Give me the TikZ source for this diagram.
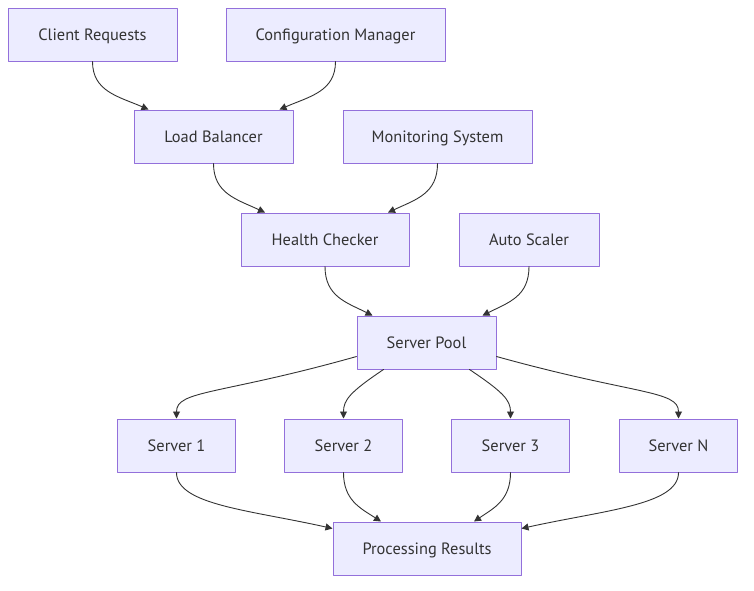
\documentclass[tikz,border=0pt]{standalone}
\usepackage{fontspec}
\setmainfont{PT Sans}
\usetikzlibrary{arrows.meta}
\definecolor{boxfill}{HTML}{ECECFF}
\definecolor{boxline}{HTML}{9370DB}
\definecolor{inkcol}{HTML}{333333}
\tikzset{
  box/.style={draw=boxline, fill=boxfill, text=inkcol, line width=1pt,
    minimum height=53pt, inner sep=0pt, text height=12.3pt, text depth=0pt,
    font=\fontsize{16.4}{18}\selectfont},
  link/.style={draw=inkcol, line width=0.9pt, -{Triangle[length=7pt,width=7pt]}}
}
\begin{document}
\begin{tikzpicture}[x=1pt, y=-1pt, line cap=round, line join=round]
  \useasboundingbox (0,0) rectangle (754,590);

  % Các hộp
  \node[box, minimum width=169pt] (cr) at (92.5,34.5) {Client Requests};
  \node[box, minimum width=219pt] (cm) at (335.5,34.5) {Configuration Manager};
  \node[box, minimum width=159pt] (lb) at (213.5,136.5) {Load Balancer};
  \node[box, minimum width=189pt] (ms) at (437.5,136.5) {Monitoring System};
  \node[box, minimum width=168pt] (hc) at (325,239.5) {Health Checker};
  \node[box, minimum width=140pt] (as) at (529,239.5) {Auto Scaler};
  \node[box, minimum width=139pt] (sp) at (426.5,342.5) {Server Pool};
  \foreach \n/\x/\t in {s1/176.5/Server 1, s2/343.5/Server 2, s3/510.5/Server 3, sn/678.5/Server N} {
    \node[box, minimum width=118pt] (\n) at (\x,445.5) {\t};
  }
  \node[box, minimum width=188pt] (pr) at (427,548.5) {Processing Results};

  % Các mũi tên
  \draw[link] (cr.south) .. controls +(0,30) and +(-30,-13) .. ([xshift=-65]lb.north);
  \draw[link] (cm.south) .. controls +(0,30) and +(30,-13) .. ([xshift=66]lb.north);
  \draw[link] (lb.south) .. controls +(0,30) and +(-28,-13) .. ([xshift=-60]hc.north);
  \draw[link] (ms.south) .. controls +(0,30) and +(28,-13) .. ([xshift=63]hc.north);
  \draw[link] (hc.south) .. controls +(0,30) and +(-26,-13) .. ([xshift=-54]sp.north);
  \draw[link] (as.south) .. controls +(0,30) and +(26,-13) .. ([xshift=56]sp.north);

  \draw[link] ([yshift=-14]sp.west) .. controls (220,395) and (176.5,390) .. (s1.north);
  \draw[link] ([xshift=-43]sp.south) .. controls (350,392) and (343.5,400) .. (s2.north);
  \draw[link] ([xshift=43]sp.south) .. controls (503,392) and (510.5,400) .. (s3.north);
  \draw[link] ([yshift=-14]sp.east) .. controls (635,395) and (678.5,390) .. (sn.north);

  \draw[link] (s1.south) .. controls (176.5,505) and (250,510) .. ([yshift=20]pr.west);
  \draw[link] (s2.south) .. controls (343.5,500) and (360,508) .. ([xshift=-46]pr.north);
  \draw[link] (s3.south) .. controls (510.5,500) and (494,508) .. ([xshift=47]pr.north);
  \draw[link] (sn.south) .. controls (678.5,505) and (605,510) .. ([yshift=20]pr.east);
\end{tikzpicture}
\end{document}
